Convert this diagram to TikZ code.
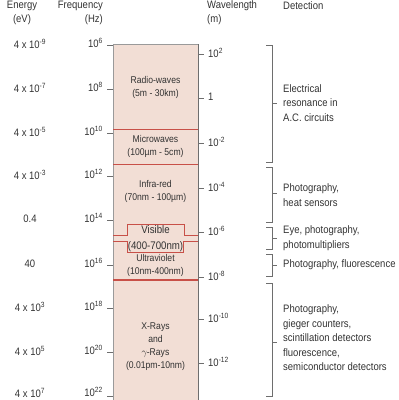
\documentclass[tikz,border=0pt]{standalone}
\usepackage{fontspec}
\setmainfont{Liberation Sans}[FakeStretch=0.88]
\usetikzlibrary{positioning}
\definecolor{bandfill}{RGB}{242,222,213}
\definecolor{bandline}{RGB}{200,80,72}
\definecolor{txtgray}{RGB}{50,50,50}
\definecolor{tickgray}{RGB}{110,110,110}
\newcommand{\ee}[1]{10\textsuperscript{#1}}

\tikzset{
	lab/.style={text=txtgray, font=\fontsize{10.8}{14}\selectfont, inner sep=0pt},
	bandlab/.style={text=txtgray, font=\fontsize{9.8}{13}\selectfont, align=center, inner sep=0pt},
	detlab/.style={lab, align=left, anchor=west, font=\fontsize{10.8}{14.5}\selectfont},
	tick/.style={draw=tickgray, line width=0.7pt},
	border/.style={draw=bandline, line width=1pt}
}

\begin{document}
\begin{tikzpicture}[x=1pt, y=-1pt]
	\useasboundingbox (0,0) rectangle (399,400);
	% spectrum column
	\fill[bandfill] (113,44) rectangle (198,400);
	\draw[tickgray!70, line width=0.6pt] (113,44) -- (113,400);
	\draw[tickgray, line width=0.8pt] (198,44) -- (198,400);
	\draw[tickgray!70, line width=0.6pt] (113,44) -- (198,44);
	% band borders
	\draw[border] (113,129) -- (198,129);
	\draw[border] (113,164) -- (198,164);
	\draw[border] (113,235) -- (127,235) -- (127,224) -- (184,224) -- (184,235) -- (198,235);
	\draw[border] (113,241) -- (127,241) -- (127,252) -- (183,252) -- (183,241) -- (198,241);
	\draw[border, line width=1.6pt] (113,280) -- (198,280);

	% band labels
	\node[bandlab] (radio) at (155.5,87) {Radio-waves\\(5m - 30km)};
	\node[bandlab] (micro) at (155.5,146) {Microwaves\\(100µm - 5cm)};
	\node[bandlab] (infra) at (155.5,191) {Infra-red\\(70nm - 100µm)};
	\node[bandlab, font=\fontsize{11}{15.5}\selectfont] (vis) at (155.5,238.5) {Visible\\(400-700nm)};
	\node[bandlab] (uv) at (155.5,265) {Ultraviolet\\(10nm-400nm)};
	\node[bandlab] (xray) at (155.5,347) {X-Rays\\and\\$\gamma$\kern-0.5pt-Rays\\(0.01pm-10nm)};

	% headers
	\node[lab, align=center] (energy) at (22,13) {Energy\\(eV)};
	\node[lab, align=right, anchor=east] (freq) at (103,13) {Frequency\\(Hz)};
	\node[lab, align=left, anchor=west] (wave) at (207,13) {Wavelength\\(m)};
	\node[lab, anchor=west] (detect) at (283,6) {Detection};

	% frequency and energy scale
	\foreach \y/\ly/\f/\e [count=\i] in {45/44/6/4 x \ee{-9}, 89/88/8/4 x \ee{-7}, 133/132/10/4 x \ee{-5},
		176/175/12/4 x \ee{-3}, 220/219/14/0.4, 265/264/16/40, 308/307/18/4 x \ee{3},
		352/351/20/4 x \ee{5}, 396/393/22/4 x \ee{7}}{
		\draw[tick] (107,\y) -- (113,\y);
		\node[lab, anchor=east] (f\i) at (103,\ly-1) {\ee{\f}};
		\node[lab] (e\i) at (30,\ly) {\e};
	}

	% wavelength scale
	\foreach \y/\w [count=\i] in {54/\ee{2}, 98/1, 143/\ee{-2}, 188/\ee{-4}, 232/\ee{-6},
		277/\ee{-8}, 319/\ee{-10}, 363/\ee{-12}}{
		\draw[tick] (198,\y) -- (204,\y);
		\node[lab, anchor=west] (w\i) at (208,\y-1) {\w};
	}

	% detection brackets
	\foreach \t/\b/\m in {45/162/103, 167/222/193, 227/249/238, 254/276/265, 283/396/342}{
		\draw[tick, line width=0.8pt] (266,\t) -- (272,\t) -- (272,\b) -- (266,\b);
		\draw[tick, line width=0.8pt] (272,\m) -- (277,\m);
	}
	\node[detlab] (d1) at (283,103) {Electrical\\resonance in\\A.C. circuits};
	\node[detlab] (d2) at (283,195) {Photography,\\heat sensors};
	\node[detlab] (d3) at (283,238) {Eye, photography,\\photomultipliers};
	\node[detlab] (d4) at (283,265) {Photography, fluorescence};
	\node[detlab] (d5) at (283,338) {Photography,\\gieger counters,\\scintillation detectors\\fluorescence,\\semiconductor detectors};
\end{tikzpicture}
\end{document}
